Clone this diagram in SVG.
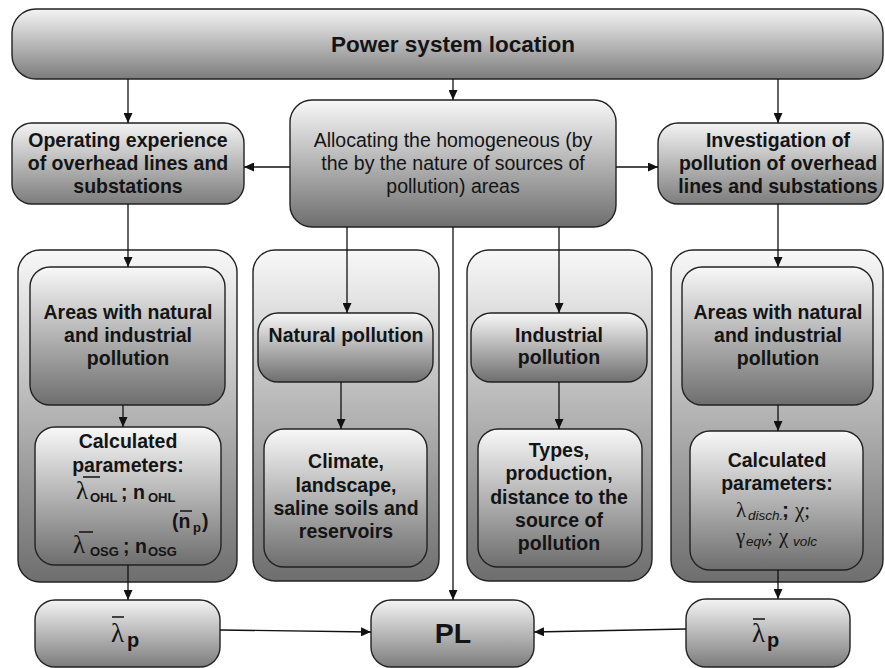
<svg xmlns="http://www.w3.org/2000/svg" width="885" height="668" viewBox="0 0 885 668">
<defs>
<linearGradient id="g" x1="0" y1="0" x2="0" y2="1">
<stop offset="0" stop-color="#f8f8f8"/>
<stop offset="1" stop-color="#6e6e6e"/>
</linearGradient>
<linearGradient id="gs" x1="0" y1="0" x2="0" y2="1">
<stop offset="0" stop-color="#f4f4f4"/>
<stop offset="1" stop-color="#7c7c7c"/>
</linearGradient>
<marker id="ah" markerUnits="userSpaceOnUse" markerWidth="10" markerHeight="9" refX="10" refY="4.5" orient="auto">
<path d="M0,0 L10,4.5 L0,9 z" fill="#111"/>
</marker>
<style>
.b{fill:url(#g);stroke:#222;stroke-width:1.4}
.s{fill:url(#gs);stroke:#222;stroke-width:1.4}
text{font-family:"Liberation Sans",Arial,sans-serif;fill:#141414}
.t{font-size:19.5px;font-weight:bold;text-anchor:middle}
.n{font-size:19.5px;text-anchor:middle}
.gr{font-family:"Liberation Serif","Times New Roman",serif;font-weight:normal}
.sb{font-size:13px;font-weight:bold}
.it{font-size:13.5px;font-style:italic;font-weight:normal}
.c{stroke:#111;stroke-width:1.3;fill:none;marker-end:url(#ah)}
.ob{stroke:#111;stroke-width:1.5}
</style>
</defs>

<g id="power-system-location">
<rect class="s" x="12" y="9" width="871" height="70" rx="24"/>
<text class="t" x="453" y="52" style="font-size:22.5px">Power system location</text>
</g>

<g id="operating-experience">
<rect class="s" x="12" y="123" width="232" height="81" rx="20"/>
<text class="t" x="128" y="147">Operating experience</text>
<text class="t" x="128" y="170">of overhead lines and</text>
<text class="t" x="128" y="193">substations</text>
</g>

<g id="allocating">
<rect class="b" x="290" y="100" width="326" height="127" rx="22"/>
<text class="n" x="453" y="147">Allocating the homogeneous (by</text>
<text class="n" x="453" y="170">the by the nature of sources of</text>
<text class="n" x="453" y="193">pollution) areas</text>
</g>

<g id="investigation">
<rect class="s" x="658" y="123" width="225" height="81" rx="20"/>
<text class="t" x="778" y="147">Investigation of</text>
<text class="t" x="778" y="170">pollution of overhead</text>
<text class="t" x="778" y="193">lines and substations</text>
</g>

<g id="left-container">
<rect class="b" x="18" y="250" width="219" height="332" rx="22"/>
</g>
<g id="left-areas">
<rect class="b" x="30" y="267" width="195" height="138" rx="20"/>
<text class="t" x="128" y="319">Areas with natural</text>
<text class="t" x="128" y="342">and industrial</text>
<text class="t" x="128" y="365">pollution</text>
</g>
<g id="left-calculated">
<rect class="b" x="35" y="427" width="186" height="138" rx="20"/>
<text class="t" x="128" y="448">Calculated</text>
<text class="t" x="128" y="472">parameters:</text>
<text style="font-size:19.5px;font-weight:bold"><tspan class="gr" x="76" y="499" style="font-size:25px">λ</tspan><tspan class="sb" x="90" y="502">OHL</tspan><tspan x="121" y="499">; n</tspan><tspan class="sb" x="148" y="502">OHL</tspan></text>
<line class="ob" x1="83" y1="477" x2="100" y2="477"/>
<text style="font-size:19.5px;font-weight:bold"><tspan x="172" y="528">(n</tspan><tspan class="sb" x="193" y="532">p</tspan><tspan x="202" y="528">)</tspan></text>
<line class="ob" x1="180" y1="511" x2="192" y2="511"/>
<text style="font-size:19.5px;font-weight:bold"><tspan class="gr" x="73" y="553" style="font-size:25px">λ</tspan><tspan class="sb" x="90" y="556">OSG</tspan><tspan x="123" y="553">; n</tspan><tspan class="sb" x="148" y="556">OSG</tspan></text>
<line class="ob" x1="79" y1="532" x2="93" y2="532"/>
</g>

<g id="natural-container">
<rect class="b" x="253" y="250" width="186" height="331" rx="22"/>
</g>
<g id="natural-pollution">
<rect class="b" x="258" y="313" width="175" height="69" rx="20"/>
<text class="t" x="346" y="342">Natural pollution</text>
</g>
<g id="climate">
<rect class="b" x="264" y="429" width="163" height="138" rx="20"/>
<text class="t" x="346" y="468">Climate,</text>
<text class="t" x="346" y="492">landscape,</text>
<text class="t" x="346" y="515">saline soils and</text>
<text class="t" x="346" y="538">reservoirs</text>
</g>

<g id="industrial-container">
<rect class="b" x="467" y="250" width="185" height="331" rx="22"/>
</g>
<g id="industrial-pollution">
<rect class="b" x="471" y="313" width="176" height="69" rx="20"/>
<text class="t" x="559" y="342">Industrial</text>
<text class="t" x="559" y="364">pollution</text>
</g>
<g id="types">
<rect class="b" x="478" y="429" width="164" height="138" rx="20"/>
<text class="t" x="559" y="457">Types,</text>
<text class="t" x="559" y="480">production,</text>
<text class="t" x="559" y="504">distance to the</text>
<text class="t" x="559" y="527">source of</text>
<text class="t" x="559" y="550">pollution</text>
</g>

<g id="right-container">
<rect class="b" x="671" y="250" width="212" height="332" rx="22"/>
</g>
<g id="right-areas">
<rect class="b" x="682" y="267" width="191" height="138" rx="20"/>
<text class="t" x="778" y="319">Areas with natural</text>
<text class="t" x="778" y="342">and industrial</text>
<text class="t" x="778" y="365">pollution</text>
</g>
<g id="right-calculated">
<rect class="b" x="690" y="431" width="173" height="139" rx="20"/>
<text class="t" x="777" y="467">Calculated</text>
<text class="t" x="777" y="490">parameters:</text>
<text style="font-size:21px"><tspan class="gr" x="736" y="517">λ</tspan><tspan class="it" x="748" y="520">disch.</tspan><tspan x="782" y="517" style="font-weight:bold">;</tspan><tspan class="gr" x="795" y="517">χ;</tspan></text>
<text style="font-size:21px"><tspan class="gr" x="736" y="543">γ</tspan><tspan class="it" x="746" y="546">eqv</tspan><tspan class="gr" x="767" y="543">;</tspan><tspan class="gr" x="779" y="543">χ</tspan><tspan class="it" x="793" y="546">volc</tspan></text>
</g>

<g id="left-lambda-p">
<rect class="s" x="35" y="600" width="185" height="67" rx="20"/>
<text><tspan class="gr" x="111" y="642" style="font-size:27px">λ</tspan><tspan x="127" y="647" style="font-size:20px;font-weight:bold">p</tspan></text>
<line class="ob" x1="112" y1="617" x2="124" y2="617"/>
</g>

<g id="pl">
<rect class="s" x="371" y="600" width="163" height="67" rx="20"/>
<text class="t" x="453" y="643" style="font-size:28.5px">PL</text>
</g>

<g id="right-lambda-p">
<rect class="s" x="686" y="599" width="164" height="68" rx="20"/>
<text><tspan class="gr" x="752" y="642" style="font-size:27px">λ</tspan><tspan x="767" y="647" style="font-size:20px;font-weight:bold">p</tspan></text>
<line class="ob" x1="753" y1="619" x2="765" y2="619"/>
</g>

<g id="connectors">
<path class="c" d="M128 79 V123"/>
<path class="c" d="M453 79 V100"/>
<path class="c" d="M778 79 V123"/>
<path class="c" d="M290 167 H244"/>
<path class="c" d="M616 167 H658"/>
<path class="c" d="M128 204 V267"/>
<path class="c" d="M347 227 V313"/>
<path class="c" d="M453 227 V600"/>
<path class="c" d="M559 227 V313"/>
<path class="c" d="M778 204 V267"/>
<path class="c" d="M123 405 V427"/>
<path class="c" d="M341 382 V429"/>
<path class="c" d="M559 382 V429"/>
<path class="c" d="M778 405 V431"/>
<path class="c" d="M128 565 V600"/>
<path class="c" d="M778 570 V599"/>
<path class="c" d="M220 630 L371 632"/>
<path class="c" d="M686 629 L534 632"/>
</g>
</svg>
